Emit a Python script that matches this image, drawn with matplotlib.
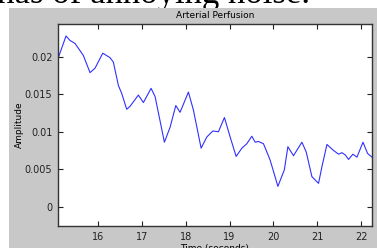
import numpy as np
import matplotlib.pyplot as plt
from matplotlib.patches import Rectangle

# perfusion trace
t = [15.094, 15.270, 15.361, 15.475, 15.665, 15.818, 15.932, 16.108, 16.274,
     16.350, 16.464, 16.541, 16.655, 16.731, 16.920, 17.035, 17.210, 17.302,
     17.514, 17.644, 17.774, 17.872, 18.062, 18.176, 18.352, 18.482, 18.619,
     18.747, 18.884, 19.014, 19.151, 19.281, 19.395, 19.509, 19.585, 19.660,
     19.774, 19.927, 20.103, 20.250, 20.331, 20.459, 20.651, 20.749, 20.879,
     21.030, 21.107, 21.222, 21.372, 21.487, 21.564, 21.640, 21.715, 21.815,
     21.907, 22.044, 22.149, 22.249]
amp = [0.0199, 0.0228, 0.0222, 0.0218, 0.0202, 0.0179, 0.0185, 0.0205, 0.0199,
       0.0193, 0.0162, 0.0151, 0.0130, 0.0134, 0.0149, 0.0139, 0.0158, 0.0147,
       0.0086, 0.0106, 0.0135, 0.0126, 0.0153, 0.0129, 0.0078, 0.0093, 0.0101,
       0.0100, 0.0119, 0.0093, 0.0067, 0.0078, 0.0084, 0.0094, 0.0086, 0.0087,
       0.0084, 0.0062, 0.0027, 0.0049, 0.0080, 0.0068, 0.0086, 0.0073, 0.0040,
       0.0031, 0.0053, 0.0083, 0.0075, 0.0070, 0.0072, 0.0069, 0.0063, 0.0070,
       0.0066, 0.0086, 0.0071, 0.0066]
xticks = [16, 17, 18, 19, 20, 21, 22]
yticks = [0, 0.005, 0.01, 0.015, 0.02]
ytick_labels = ['0', '0.005', '0.01', '0.015', '0.02']

fig = plt.figure(figsize=(3.77, 2.48), dpi=100, facecolor='white')

# cropped line of page text above the figure
fig.text(-3/377, 1 - 3/248, 'has of annoying noise.', family='Liberation Serif',
         fontsize=25, color='black', va='baseline', ha='left', zorder=-6)
fig.add_artist(Rectangle((9/377, 0), 1 - 9/377, 1 - 8/248,
                         transform=fig.transFigure, facecolor='#c8c8c8',
                         edgecolor='none', zorder=-5))

ax = fig.add_axes([58/377, 22/248, (372 - 58)/377, (224 - 22)/248])
ax.set_facecolor('white')
ax.plot(t, amp, color='#3030ff', lw=0.8)

ax.set_xlim(15.087, 22.25)
ax.set_ylim(-0.0026, 0.0244)
ax.set_xticks(xticks)
ax.set_xticklabels([str(v) for v in xticks])
ax.set_yticks(yticks)
ax.set_yticklabels(ytick_labels)
ax.tick_params(direction='in', length=3.5, width=0.8, top=True, right=True,
               labelsize=7, colors='#222222', pad=4)
for s in ax.spines.values():
    s.set_linewidth(1.0)
    s.set_color('#333333')

ax.set_title('Arterial Perfusion', fontsize=6.5, pad=4.5)
ax.set_xlabel('Time (seconds)', fontsize=6.5, labelpad=2)
ax.set_ylabel('Amplitude', fontsize=6.5, labelpad=1)

fig.savefig('out.png', dpi=100, facecolor=fig.get_facecolor())
